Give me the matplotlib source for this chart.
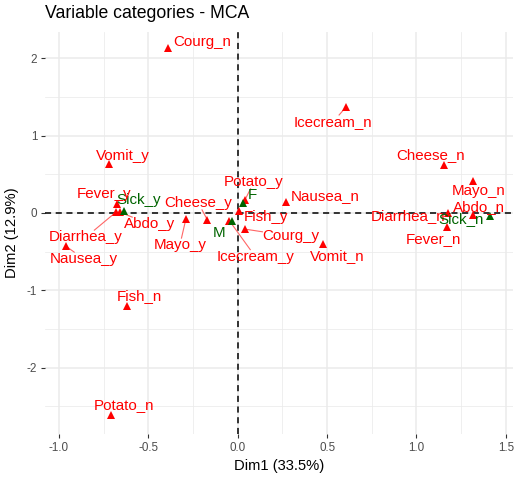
import numpy as np
import matplotlib
matplotlib.use("Agg")
import matplotlib.pyplot as plt

# ---- data ----
categories = ["Courg_n", "Icecream_n", "Vomit_y", "Cheese_n", "Mayo_n", "Abdo_n",
              "Diarrhea_n", "Sick_n", "Fever_n", "Vomit_n", "Nausea_n", "Potato_y",
              "F", "Fish_y", "Courg_y", "Icecream_y", "M", "Cheese_y", "Mayo_y",
              "Abdo_y", "Sick_y", "Fever_y", "Diarrhea_y", "Nausea_y", "Fish_n", "Potato_n"]
dim1 = [-0.392, 0.606, -0.720, 1.156, 1.315, 1.318,
        1.178, 1.412, 1.173, 0.479, 0.268, 0.041,
        0.028, 0.009, 0.041, -0.047, -0.030, -0.170, -0.290,
        -0.660, -0.634, -0.675, -0.681, -0.961, -0.621, -0.709]
dim2 = [2.13, 1.37, 0.63, 0.62, 0.41, -0.03,
        0.00, -0.04, -0.18, -0.40, 0.14, 0.17,
        0.13, 0.03, -0.21, -0.10, -0.11, -0.09, -0.08,
        0.01, 0.03, 0.12, 0.01, -0.43, -1.20, -2.62]
groups = ["var", "var", "var", "var", "var", "var",
          "var", "supp", "var", "var", "var", "var",
          "supp", "var", "var", "var", "supp", "var", "var",
          "var", "supp", "var", "var", "var", "var", "var"]
title = "Variable categories - MCA"
xlabel = "Dim1 (33.5%)"
ylabel = "Dim2 (12.9%)"

# label offsets in pixels (dx right, dy down) -- layout only
label_offsets = {
    "Courg_n": (35, -6), "Icecream_n": (-13, 15), "Vomit_y": (14, -8),
    "Cheese_n": (-14, -10), "Mayo_n": (6, 10), "Abdo_n": (6, -8),
    "Diarrhea_n": (-40, 3), "Sick_n": (-29, 3), "Fever_n": (-14, 12),
    "Vomit_n": (14, 12), "Nausea_n": (40, -6), "Potato_y": (9, -18),
    "F": (10, -8), "Fish_y": (27, 6), "Courg_y": (46, 7),
    "Icecream_y": (26, 36), "M": (-13, 12), "Cheese_y": (-9, -17),
    "Mayo_y": (-6, 26), "Abdo_y": (30, 12), "Sick_y": (14, -11),
    "Fever_y": (-13, -10), "Diarrhea_y": (-30, 25), "Nausea_y": (18, 13),
    "Fish_n": (13, -10), "Potato_n": (13, -10),
}

colors = {"var": "#FF0000", "supp": "#006400"}
seg_colors = {"var": "#FF6666", "supp": "#4d8f4d"}

W, H, DPI = 518, 480, 100
fig = plt.figure(figsize=(W / DPI, H / DPI), dpi=DPI)
plt.rcParams['font.family'] = ['Liberation Sans', 'DejaVu Sans']

left, right, top, bottom = 45, 513, 32, 434
ax = fig.add_axes([left / W, 1 - bottom / H, (right - left) / W, (bottom - top) / H])
ax.set_xlim(-1.078, 1.54)
ax.set_ylim(-2.86, 2.34)

for s in ax.spines.values():
    s.set_visible(False)
ax.set_facecolor("white")

ax.set_xticks([-1.0, -0.5, 0.0, 0.5, 1.0, 1.5])
ax.set_xticklabels(["-1.0", "-0.5", "0.0", "0.5", "1.0", "1.5"])
ax.set_yticks([-2, -1, 0, 1, 2])
ax.set_yticklabels(["-2", "-1", "0", "1", "2"])
ax.set_xticks([-0.75, -0.25, 0.25, 0.75, 1.25], minor=True)
ax.set_yticks([-2.5, -1.5, -0.5, 0.5, 1.5], minor=True)
ax.grid(True, which="major", color="#EBEBEB", linewidth=1.1, zorder=0)
ax.grid(True, which="minor", color="#EBEBEB", linewidth=0.55, zorder=0)
ax.tick_params(which="major", length=3, width=0.8, color="#333333",
               labelcolor="#4D4D4D", labelsize=8.4, pad=2.5)
ax.tick_params(which="minor", length=0)
ax.set_axisbelow(True)

ax.axhline(0, color="black", linestyle=(0, (4, 3)), linewidth=1.1, zorder=1)
ax.axvline(0, color="black", linestyle=(0, (4, 3)), linewidth=1.1, zorder=1)

for x, y, g in zip(dim1, dim2, groups):
    ax.plot(x, y, marker="^", markersize=5.5, color=colors[g],
            markeredgewidth=0, linestyle="none", zorder=3)

fig.canvas.draw()
renderer = fig.canvas.get_renderer()
trans = ax.transData
texts = []
for name, x, y, g in zip(categories, dim1, dim2, groups):
    px, py = trans.transform((x, y))
    dx, dy = label_offsets[name]
    tx, ty = trans.inverted().transform((px + dx, py - dy))
    t = ax.text(tx, ty, name, color=colors[g], fontsize=10.9,
                ha="center", va="center", zorder=4)
    texts.append((t, px, py, g))

fig.canvas.draw()
for t, px, py, g in texts:
    bb = t.get_window_extent(renderer)
    cx, cy = (bb.x0 + bb.x1) / 2, (bb.y0 + bb.y1) / 2
    vx, vy = px - cx, py - cy
    if bb.x0 <= px <= bb.x1 and bb.y0 <= py <= bb.y1:
        continue
    hw, hh = (bb.x1 - bb.x0) / 2, (bb.y1 - bb.y0) / 2
    s = min(hw / abs(vx) if vx else np.inf, hh / abs(vy) if vy else np.inf)
    ex, ey = cx + vx * s, cy + vy * s
    dist = np.hypot(px - ex, py - ey)
    if dist > 9.5:
        fx = px - (px - ex) / dist * 2
        fy = py - (py - ey) / dist * 2
        p0 = trans.inverted().transform((ex, ey))
        p1 = trans.inverted().transform((fx, fy))
        ax.plot([p0[0], p1[0]], [p0[1], p1[1]], color=seg_colors[g],
                linewidth=0.8, zorder=2)

fig.text(left / W, 1 - 14 / H, title, fontsize=12.7, color="black",
         ha="left", va="center")
fig.text((left + right) / 2 / W, 1 - 466 / H, xlabel, fontsize=10.6,
         ha="center", va="center")
fig.text(12 / W, 1 - (top + bottom) / 2 / H, ylabel, fontsize=10.6,
         ha="center", va="center", rotation=90)

fig.savefig("out.png", dpi=DPI)
